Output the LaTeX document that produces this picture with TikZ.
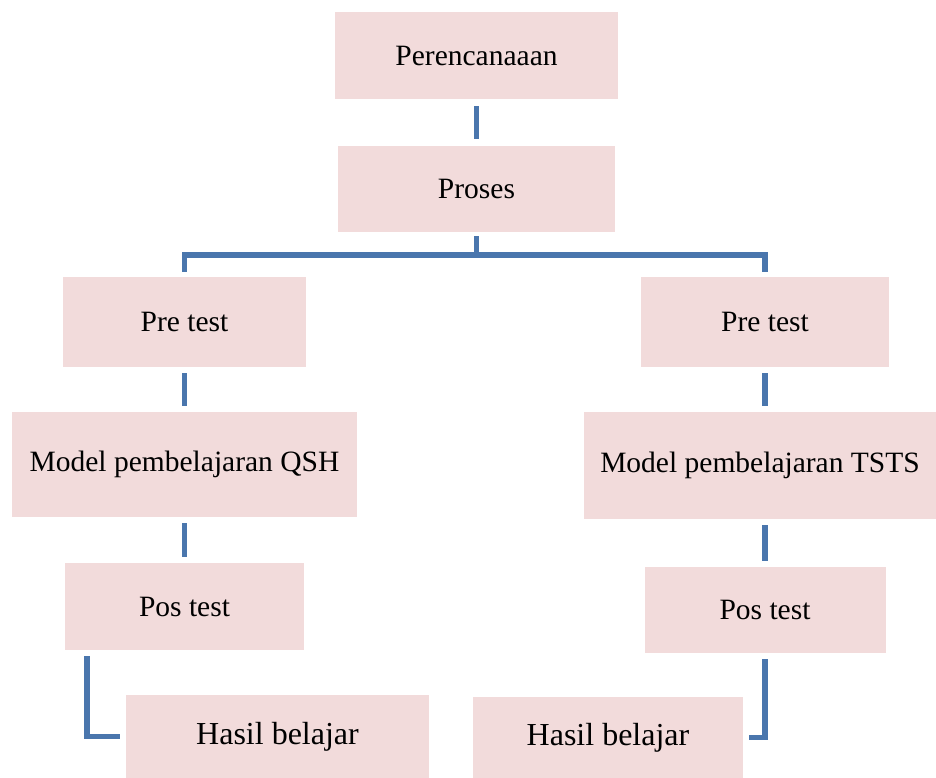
\documentclass[tikz,border=0pt]{standalone}
\usepackage{fontspec}
\setmainfont{Liberation Serif}
\definecolor{boxfill}{HTML}{F2DBDB}
\definecolor{linecol}{HTML}{4A76AD}
\begin{document}
\begin{tikzpicture}[x=1pt,y=-1pt,
  stepbox/.style={rectangle, fill=boxfill, inner sep=0pt, align=center, font=\fontsize{29.5}{32}\selectfont},
  bigtext/.style={font=\fontsize{32}{34}\selectfont},
  conn/.style={draw=linecol, line width=5.5pt, line join=miter},
  gap/.style={shorten <=#1, shorten >=#1}]
\useasboundingbox (0,0) rectangle (936,778);
\node[stepbox, minimum width=283pt, minimum height=87pt] (per) at (476.5,55.5) {Perencanaaan};
\node[stepbox, minimum width=277pt, minimum height=86pt] (pr) at (476.5,189) {Proses};
\node[stepbox, minimum width=243pt, minimum height=90pt] (ptl) at (184.5,322) {Pre test};
\node[stepbox, minimum width=248pt, minimum height=90pt] (ptr) at (765,322) {Pre test};
\node[stepbox, minimum width=345pt, minimum height=105pt] (ml) at (184.5,464.5) {Model pembelajaran QSH};
\node[stepbox, minimum width=352pt, minimum height=107pt] (mr) at (760,465.5) {Model pembelajaran TSTS};
\node[stepbox, minimum width=239pt, minimum height=87pt] (posl) at (184.5,606.5) {Pos test};
\node[stepbox, minimum width=241pt, minimum height=86pt] (posr) at (765,610) {Pos test};
\node[stepbox, bigtext, minimum width=303pt, minimum height=83pt] (hl) at (277.5,736.5) {Hasil belajar};
\node[stepbox, bigtext, minimum width=270pt, minimum height=81pt] (hr) at (608,737.5) {Hasil belajar};
\coordinate (bar) at (476.5,255);
\coordinate (el) at (87,738);
% connectors
\draw[conn, gap=7pt] (per.south) -- (pr.north);
\draw[conn, shorten <=4pt] (pr.south) -- (bar);
\draw[conn, gap=5pt] (ptl.north) -- (ptl.north |- bar) -- (ptr.north |- bar) -- (ptr.north);
\draw[conn, gap=6pt] (ptl.south) -- (ml.north);
\draw[conn, gap=6pt] (ml.south) -- (posl.north);
\draw[conn, gap=6pt] (ptr.south) -- (ptr.south |- mr.north);
\draw[conn, gap=6pt] (ptr.south |- mr.south) -- (posr.north);
\draw[conn, gap=6pt] (el |- posl.south) |- (hl.west);
\draw[conn, gap=6pt] (posr.south) |- (hr.east);
\end{tikzpicture}
\end{document}
